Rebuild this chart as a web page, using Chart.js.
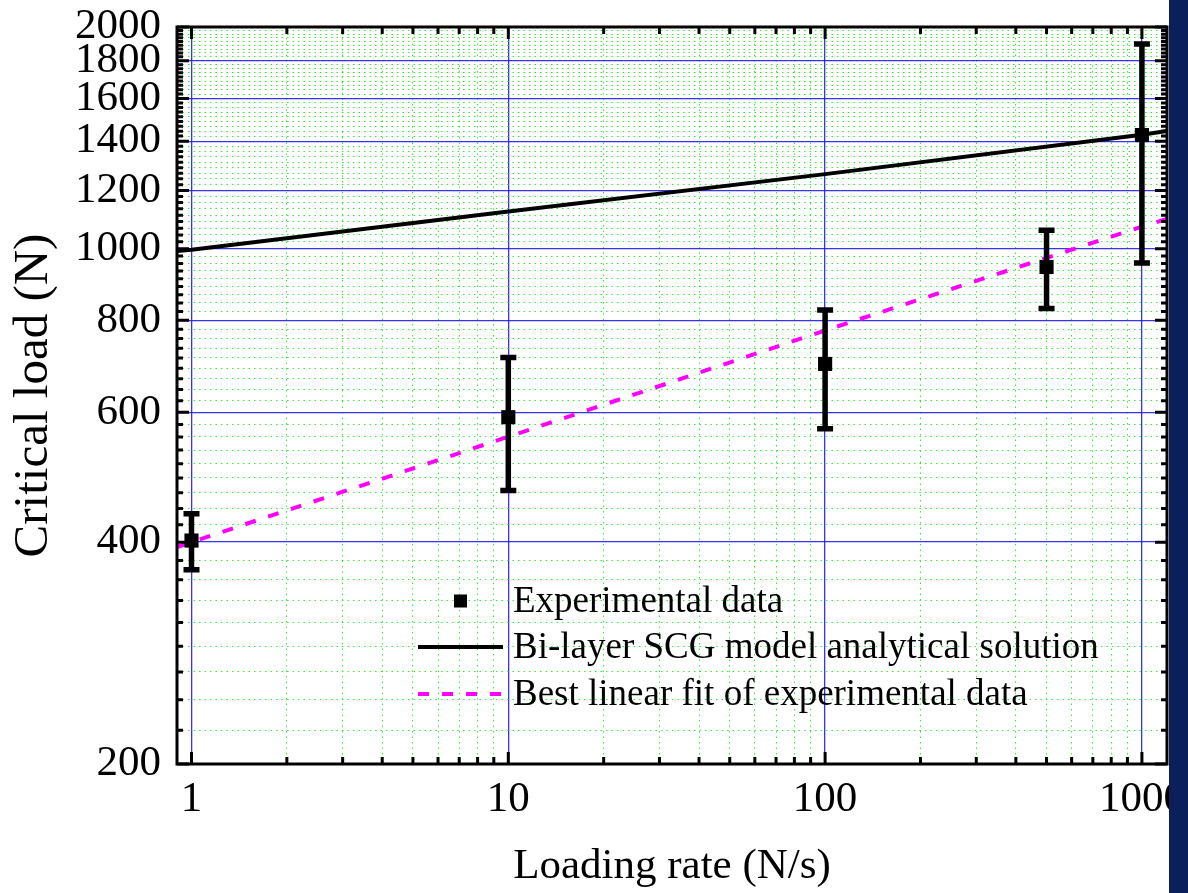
<!DOCTYPE html>
<html>
<head>
<meta charset="utf-8">
<script src="https://cdn.jsdelivr.net/npm/chart.js@4.4.1/dist/chart.umd.min.js"></script>
<style>
    body { margin: 0; background: #fff; }
    #wrap { position: relative; width: 1188px; height: 893px; }
    #edge { position: absolute; left: 1169px; top: 0; width: 19px; height: 893px; background: #0b1f5b; }
</style>
</head>
<body>
<div id="wrap">
    <canvas id="loadChart" width="1188" height="893"></canvas>
    <div id="edge"></div>
</div>
<script>
// Experimental data: loading rate (N/s), critical load (N), error (+/- N)
const rates = [1, 10, 100, 500, 1000];
const expLoad = [402, 591, 698, 945, 1427];
const expErr = [35, 121, 128, 115, 470];

// Bi-layer SCG model analytical solution
const modelRate = [0.9, 1, 10, 100, 1000, 1200];
const modelLoad = [993, 997, 1124, 1263, 1428, 1445];

const fitRate = [0.9, 1, 10, 100, 1000, 1200];
const fitLoad = [394, 400, 556, 775, 1072, 1098];

// Axis ticks
const xMajor = [1, 10, 100, 1000];
const yMajor = [200, 400, 600, 800, 1000, 1200, 1400, 1600, 1800, 2000];

const xMinor = [];
[1, 10, 100].forEach(d => { for (let k = 2; k <= 9; k++) xMinor.push(k * d); });
const yMinor = [];
for (let i = 0; i < yMajor.length - 1; i++) {
    for (let k = 1; k <= 8; k++) yMinor.push(yMajor[i] + k * (yMajor[i + 1] - yMajor[i]) / 9);
}

const serif = "'Liberation Serif', 'Times New Roman', serif";

// no extra room for overhanging tick labels
const noPad = s => { s.paddingTop = 0; s.paddingBottom = 0; s.paddingLeft = 0; s.paddingRight = 0; };

// error bars, frame with inward ticks, legend inside the plot
const decorations = {
    id: 'decorations',
    afterDatasetsDraw(chart) {
        const { ctx, scales: { x, y } } = chart;
        ctx.save();
        ctx.strokeStyle = '#000';
        ctx.lineWidth = 5.5;
        rates.forEach((r, i) => {
            const px = x.getPixelForValue(r);
            const top = y.getPixelForValue(expLoad[i] + expErr[i]);
            const bot = y.getPixelForValue(expLoad[i] - expErr[i]);
            ctx.beginPath();
            ctx.moveTo(px, top); ctx.lineTo(px, bot);
            ctx.moveTo(px - 8, top); ctx.lineTo(px + 8, top);
            ctx.moveTo(px - 8, bot); ctx.lineTo(px + 8, bot);
            ctx.stroke();
        });
        ctx.restore();
    },
    afterDraw(chart) {
        const { ctx, chartArea: a, scales: { x, y } } = chart;
        ctx.save();
        ctx.strokeStyle = '#000';
        ctx.lineWidth = 3;
        ctx.beginPath();
        const tickX = (v, len) => {
            const p = x.getPixelForValue(v);
            ctx.moveTo(p, a.bottom); ctx.lineTo(p, a.bottom - len);
            ctx.moveTo(p, a.top); ctx.lineTo(p, a.top + len);
        };
        const tickY = (v, len) => {
            const p = y.getPixelForValue(v);
            ctx.moveTo(a.left, p); ctx.lineTo(a.left + len, p);
            ctx.moveTo(a.right, p); ctx.lineTo(a.right - len, p);
        };
        xMajor.forEach(v => tickX(v, 12));
        xMinor.forEach(v => tickX(v, 7));
        yMajor.forEach(v => tickY(v, 12));
        yMinor.forEach(v => tickY(v, 6));
        ctx.stroke();
        ctx.strokeRect(a.left, a.top, a.right - a.left, a.bottom - a.top);

        // legend
        const lx = 418, lw = 85, tx = 513;
        const rows = [601, 647, 694];
        ctx.font = '37px ' + serif;
        ctx.textBaseline = 'middle';
        chart.data.datasets.forEach((ds, i) => {
            const ry = rows[i];
            if (ds.showLine === false) {
                ctx.fillStyle = ds.backgroundColor;
                ctx.fillRect(lx + lw / 2 - 6.5, ry - 6.5, 13, 13);
            } else {
                ctx.beginPath();
                ctx.strokeStyle = ds.borderColor;
                ctx.lineWidth = ds.borderWidth;
                ctx.setLineDash(ds.borderDash || []);
                ctx.moveTo(lx, ry); ctx.lineTo(lx + lw, ry);
                ctx.stroke();
                ctx.setLineDash([]);
            }
            ctx.fillStyle = '#000';
            ctx.fillText(ds.label, tx, ry + 1);
        });
        ctx.restore();
    }
};

const ctx = document.getElementById('loadChart').getContext('2d');
new Chart(ctx, {
    type: 'line',
    data: {
        datasets: [{
            label: 'Experimental data',
            data: rates.map((r, i) => ({ x: r, y: expLoad[i] })),
            showLine: false,
            pointStyle: 'rect',
            pointRadius: 10,
            backgroundColor: '#000',
            borderColor: '#000',
            borderWidth: 0
        }, {
            label: 'Bi-layer SCG model analytical solution',
            data: modelRate.map((r, i) => ({ x: r, y: modelLoad[i] })),
            borderColor: '#000',
            borderWidth: 4,
            pointRadius: 0
        }, {
            label: 'Best linear fit of experimental data',
            data: fitRate.map((r, i) => ({ x: r, y: fitLoad[i] })),
            borderColor: '#ff00ff',
            borderWidth: 4,
            borderDash: [11, 13],
            pointRadius: 0
        }]
    },
    options: {
        responsive: false,
        animation: false,
        layout: { autoPadding: false, padding: { top: 27, right: 21, left: 0, bottom: 0 } },
        plugins: {
            legend: { display: false },
            tooltip: { enabled: false }
        },
        scales: {
            x: {
                type: 'logarithmic',
                min: 0.9,
                max: 1200,
                afterBuildTicks: s => { s.ticks = xMajor.map(v => ({ value: v })); },
                afterFit: s => { s.height = 129; noPad(s); },
                ticks: {
                    callback: v => String(v),
                    font: { family: serif, size: 43 },
                    color: '#000',
                    padding: 10,
                    maxRotation: 0,
                    autoSkip: false
                },
                grid: { color: 'rgba(30,30,240,0.9)', lineWidth: 1.3, drawTicks: false },
                border: { display: false },
                title: {
                    display: true,
                    text: 'Loading rate (N/s)',
                    font: { family: serif, size: 43 },
                    color: '#000',
                    padding: 0
                }
            },
            xMinor: {
                type: 'logarithmic',
                position: 'bottom',
                min: 0.9,
                max: 1200,
                afterBuildTicks: s => { s.ticks = xMinor.map(v => ({ value: v })); },
                afterFit: s => { s.height = 0; noPad(s); },
                ticks: { display: false },
                grid: { color: '#33ee33', lineWidth: 1, drawTicks: false },
                border: { display: false, dash: [1.5, 4] }
            },
            y: {
                type: 'logarithmic',
                min: 200,
                max: 2000,
                afterBuildTicks: s => { s.ticks = yMajor.map(v => ({ value: v })); },
                afterFit: s => { s.width = 177; noPad(s); },
                ticks: {
                    callback: v => String(v),
                    font: { family: serif, size: 43 },
                    color: '#000',
                    padding: 16,
                    autoSkip: false
                },
                grid: { color: 'rgba(30,30,240,0.9)', lineWidth: 1.3, drawTicks: false },
                border: { display: false },
                title: {
                    display: true,
                    text: 'Critical load (N)',
                    font: { family: serif, size: 49 },
                    color: '#000',
                    padding: { top: 5, bottom: 0 }
                }
            },
            yMinor: {
                type: 'logarithmic',
                position: 'left',
                min: 200,
                max: 2000,
                afterBuildTicks: s => { s.ticks = yMinor.map(v => ({ value: v })); },
                afterFit: s => { s.width = 0; noPad(s); },
                ticks: { display: false },
                grid: { color: '#33ee33', lineWidth: 1, drawTicks: false },
                border: { display: false, dash: [1.5, 4] }
            }
        }
    },
    plugins: [decorations]
});
</script>
</body>
</html>
